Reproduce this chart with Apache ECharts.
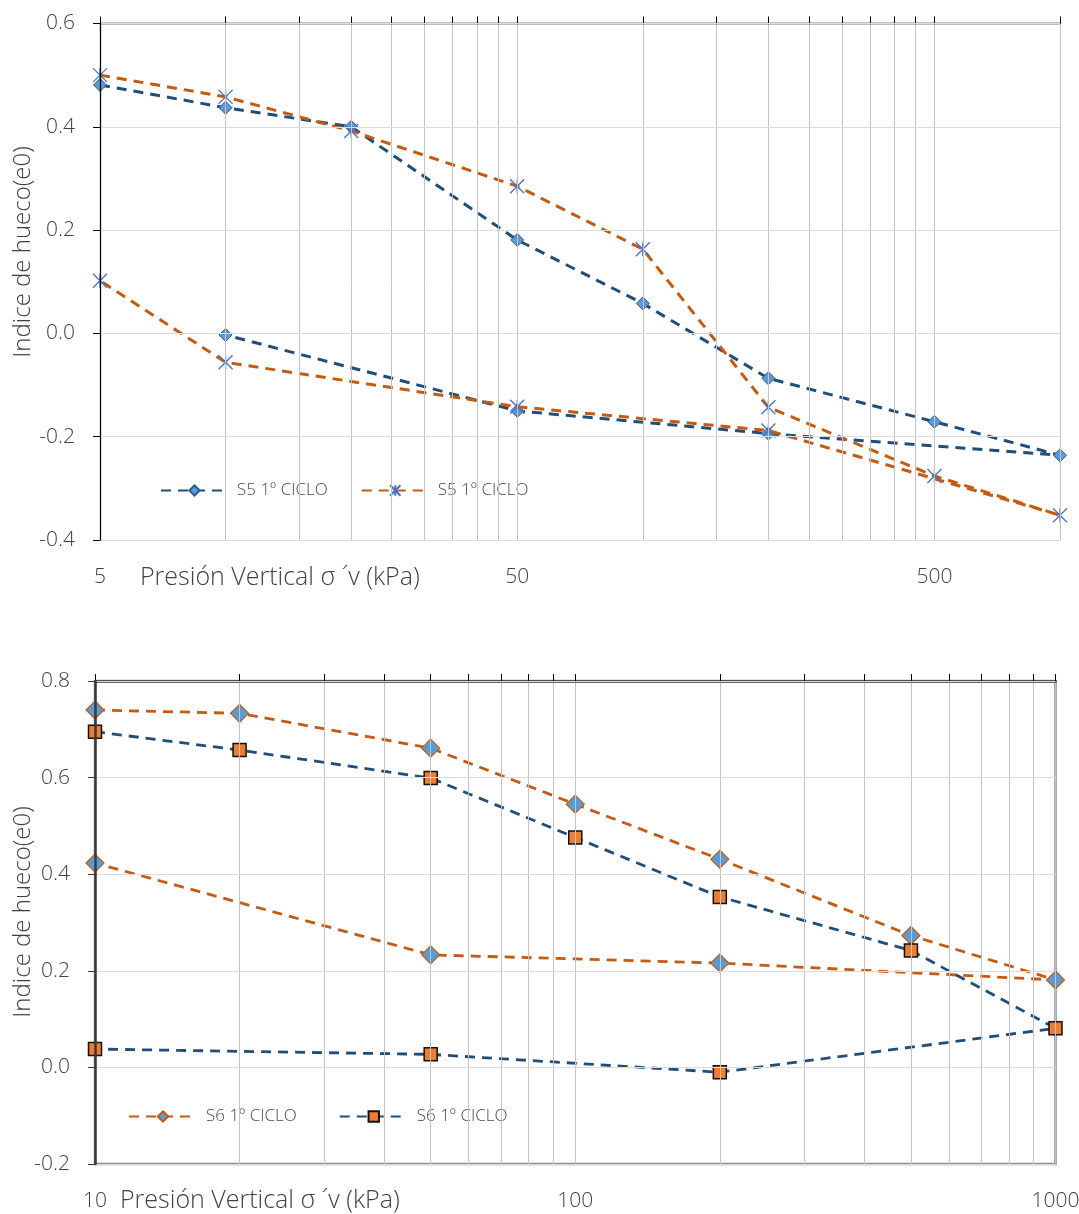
<!DOCTYPE html>
<html><head><meta charset="utf-8">
<script src="https://cdn.jsdelivr.net/npm/echarts@6/dist/echarts.min.js"></script>
<style>html,body{margin:0;padding:0;background:#fff}#c{width:1079px;height:1214px}</style>
</head><body><div id="c"></div>
<script>
// ---- Top chart (S5) ----
const s5BluePressure   = [5, 10, 20, 50, 100, 200, 500, 1000, 200, 50, 10];
const s5BlueVoid       = [0.481, 0.437, 0.400, 0.181, 0.058, -0.087, -0.171, -0.236, -0.194, -0.150, -0.003];
const s5OrangePressure = [5, 10, 20, 50, 100, 200, 500, 1000, 200, 50, 10, 5];
const s5OrangeVoid     = [0.500, 0.458, 0.392, 0.285, 0.163, -0.143, -0.276, -0.352, -0.188, -0.142, -0.056, 0.102];
const topGridValues    = [5, 10, 15, 20, 25, 30, 35, 40, 45, 50, 100, 150, 200, 250, 300, 350, 400, 450, 500, 1000];
const topLabelValues   = [5, 50, 500];
// ---- Bottom chart (S6) ----
const s6Pressure       = [10, 20, 50, 100, 200, 500, 1000, 200, 50, 10];
const s6OrangeVoid     = [0.740, 0.733, 0.661, 0.545, 0.431, 0.273, 0.181, 0.216, 0.233, 0.423];
const s6BlueVoid       = [0.695, 0.657, 0.599, 0.476, 0.353, 0.242, 0.081, -0.010, 0.027, 0.038];
const bottomGridValues = [10, 20, 30, 40, 50, 60, 70, 80, 90, 100, 200, 300, 400, 500, 600, 700, 800, 900, 1000];
const bottomLabelValues = [10, 100, 1000];
const legendS5 = ['S5 1º CICLO', 'S5 1º CICLO '];
const legendS6 = ['S6 1º CICLO', 'S6 1º CICLO '];
const xName = 'Presión Vertical σ ´v (kPa)';
const yName = 'Indice de hueco(e0)';

const zip = (xs, ys) => xs.map((x, i) => [x, ys[i]]);
const FONT = "'Open Sans', 'Noto Sans', sans-serif";
const TXT = '#404040';
const starPath = 'path://M0,0L10,10M10,0L0,10M5,0L5,10';

const chart = echarts.init(document.getElementById('c'), null, {renderer: 'canvas'});

function tickAxis(grid, min, max, values, lineColor, lineWidth) {
  return {
    type: 'log', gridIndex: grid, position: 'top', min: min, max: max,
    axisLine: {show: true, onZero: false, lineStyle: {color: lineColor, width: lineWidth}},
    axisTick: {show: true, inside: false, length: 7, customValues: values, lineStyle: {color: '#000', width: 1}},
    axisLabel: {show: false},
    splitLine: {show: true, lineStyle: {color: '#C4C4C4', width: 1}},
    z: 5
  };
}
function labelAxis(grid, min, max, values) {
  return {
    type: 'log', gridIndex: grid, position: 'bottom', min: min, max: max,
    axisLine: {show: false, onZero: false}, axisTick: {show: false}, splitLine: {show: false},
    axisLabel: {show: true, customValues: values, margin: 27, color: TXT, fontSize: 21, fontWeight: 300, fontFamily: FONT,
      formatter: v => String(Math.round(v))}
  };
}
function yAxis(grid, min, max, lineColor, lineWidth) {
  return {
    type: 'value', gridIndex: grid, min: min, max: max, interval: 0.2,
    axisLine: {show: true, onZero: false, lineStyle: {color: lineColor, width: lineWidth}},
    axisTick: {show: true, inside: false, length: 7, lineStyle: {color: lineColor}},
    axisLabel: {color: TXT, fontSize: 21, fontWeight: 300, fontFamily: FONT, margin: 25, formatter: v => v.toFixed(1)},
    splitLine: {show: true, lineStyle: {color: '#DCDCDC', width: 1}},
    z: 6
  };
}
function nameText(x, y, text, rotate) {
  return {type: 'text', x: x, y: y, rotation: rotate ? Math.PI / 2 : 0, z: 10,
    style: {text: text, fill: TXT, fontSize: rotate ? 24 : 25, fontWeight: 300, fontFamily: FONT,
      align: rotate ? 'center' : 'left', verticalAlign: 'middle'}};
}

const option = {
  backgroundColor: '#fff',
  animation: false,
  textStyle: {fontFamily: FONT},
  grid: [
    {left: 100, width: 960, top: 23.5, height: 516.5, containLabel: false, outerBoundsMode: 'none'},
    {left: 95, width: 960.5, top: 681, height: 483, containLabel: false, outerBoundsMode: 'none',
     show: true, borderColor: '#8C8C8C', borderWidth: 2.5, backgroundColor: 'transparent'}
  ],
  xAxis: [
    tickAxis(0, 5, 1000, topGridValues, '#000', 1.3),
    labelAxis(0, 5, 1000, topLabelValues),
    tickAxis(1, 10, 1000, bottomGridValues, '#3A3A3A', 2.5),
    labelAxis(1, 10, 1000, bottomLabelValues)
  ],
  yAxis: [
    yAxis(0, -0.4, 0.6, '#000', 1.3),
    yAxis(1, -0.2, 0.8, '#3A3A3A', 2.5)
  ],
  legend: [
    {data: legendS5, left: 150, top: 478, itemWidth: 67, itemHeight: 13, itemGap: 33,
     padding: [4, 10], backgroundColor: '#fff',
     textStyle: {color: '#4A4A4A', fontSize: 17, fontWeight: 300, fontFamily: FONT, padding: [0, 0, 0, 4]},
     formatter: n => n.trim()},
    {data: legendS6, left: 118, top: 1104, itemWidth: 68, itemHeight: 13, itemGap: 42,
     padding: [4, 10], backgroundColor: '#fff',
     textStyle: {color: '#4A4A4A', fontSize: 17, fontWeight: 300, fontFamily: FONT, padding: [0, 0, 0, 4]},
     formatter: n => n.trim()}
  ],
  graphic: [
    nameText(140, 578, xName, false),
    nameText(120, 1201, xName, false),
    nameText(23, 252, yName, true),
    nameText(23, 912, yName, true)
  ],
  series: [
    {name: legendS5[0], type: 'line', xAxisIndex: 0, yAxisIndex: 0, data: zip(s5BluePressure, s5BlueVoid),
     symbol: 'diamond', symbolSize: 13,
     lineStyle: {color: '#1F4E79', width: 3, type: [10, 7]},
     itemStyle: {color: '#5B9BD5', borderColor: '#2E5C8A', borderWidth: 1}, z: 3},
    {name: legendS5[1], type: 'line', xAxisIndex: 0, yAxisIndex: 0, data: zip(s5OrangePressure, s5OrangeVoid),
     symbol: starPath, symbolSize: 14,
     lineStyle: {color: '#C55A11', width: 3, type: [10, 7]},
     itemStyle: {color: 'rgba(0,0,0,0)', borderColor: '#4472C4', borderWidth: 1.3}, z: 4},
    {name: legendS6[0], type: 'line', xAxisIndex: 2, yAxisIndex: 1, data: zip(s6Pressure, s6OrangeVoid),
     symbol: 'diamond', symbolSize: 18,
     lineStyle: {color: '#C55A11', width: 2.8, type: [10, 7]},
     itemStyle: {color: '#5B9BD5', borderColor: '#C55A11', borderWidth: 1.2}, z: 3},
    {name: legendS6[1], type: 'line', xAxisIndex: 2, yAxisIndex: 1, data: zip(s6Pressure, s6BlueVoid),
     symbol: 'rect', symbolSize: 13,
     lineStyle: {color: '#1F4E79', width: 2.8, type: [10, 7]},
     itemStyle: {color: '#ED7D31', borderColor: '#111', borderWidth: 1.5}, z: 4}
  ]
};
chart.setOption(option);
</script></body></html>
